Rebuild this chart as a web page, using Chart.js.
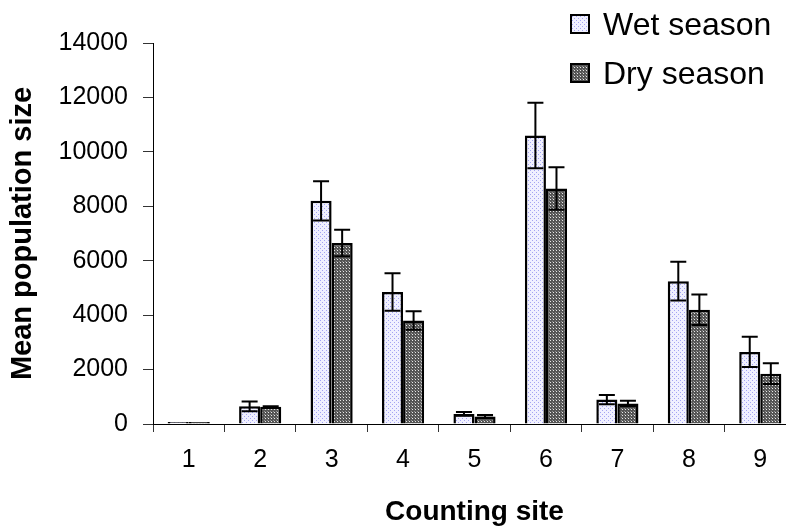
<!DOCTYPE html>
<html lang="en">
<head>
  <meta charset="UTF-8">
  <title>Mean population size by counting site</title>
  <script src="https://cdn.jsdelivr.net/npm/chart.js"></script>
  <style>
    body {
      margin: 0;
      background: #ffffff;
      overflow: hidden;
    }
    .wrap {
      width: 800px;
      height: 529px;
    }
  </style>
</head>
<body>

  <div class="wrap">
    <canvas id="popChart" width="800" height="529"></canvas>
  </div>

  <script>
    // values
    const sites = ['1', '2', '3', '4', '5', '6', '7', '8', '9'];
    const wetMeans = [70, 650, 8200, 4850, 370, 10600, 900, 5250, 2650];
    const wetErr   = [0, 180, 720, 690, 70, 1200, 170, 710, 560];
    const dryMeans = [70, 630, 6650, 3800, 280, 8650, 750, 4200, 1850];
    const dryErr   = [0, 20, 490, 340, 50, 780, 100, 560, 380];
    const yTicks = [0, 2000, 4000, 6000, 8000, 10000, 12000, 14000];

    const FONT = "'Liberation Sans', Arial, sans-serif";

    function makePattern(size, bg, dots) {
      const c = document.createElement('canvas');
      c.width = size;
      c.height = size;
      const g = c.getContext('2d');
      g.fillStyle = bg;
      g.fillRect(0, 0, size, size);
      dots.forEach(d => {
        g.fillStyle = d[2];
        g.fillRect(d[0], d[1], 1, 1);
      });
      return g.createPattern(c, 'repeat');
    }

    const wetFill = makePattern(4, '#f0f0ff', [[0, 0, '#a4a4f2'], [2, 2, '#a4a4f2']]);
    const dryFill = makePattern(3, '#555555', [[1, 1, '#e8e8e8'], [0, 0, '#909090']]);

    const errors = [wetErr, dryErr];

    // error bars drawn from the y scale
    const errorBars = {
      id: 'errorBars',
      afterDatasetsDraw(chart) {
        const ctx = chart.ctx;
        const y = chart.scales.y;
        ctx.save();
        ctx.strokeStyle = '#000';
        ctx.lineWidth = 2;
        chart.data.datasets.forEach((ds, i) => {
          const meta = chart.getDatasetMeta(i);
          meta.data.forEach((bar, j) => {
            const e = errors[i][j];
            if (!e) return;
            const top = y.getPixelForValue(ds.data[j] + e);
            const bot = y.getPixelForValue(ds.data[j] - e);
            const cap = 8;
            ctx.beginPath();
            ctx.moveTo(bar.x, top);
            ctx.lineTo(bar.x, bot);
            ctx.moveTo(bar.x - cap, top);
            ctx.lineTo(bar.x + cap, top);
            ctx.moveTo(bar.x - cap, bot);
            ctx.lineTo(bar.x + cap, bot);
            ctx.stroke();
          });
        });
        ctx.restore();
      }
    };

    // legend in the top right corner, over the plot
    const cornerLegend = {
      id: 'cornerLegend',
      afterDraw(chart) {
        const ctx = chart.ctx;
        ctx.save();
        ctx.font = '32px ' + FONT;
        ctx.textBaseline = 'alphabetic';
        chart.data.datasets.forEach((ds, i) => {
          const top = 14 + i * 49;
          ctx.fillStyle = ds.backgroundColor;
          ctx.fillRect(570, top, 20, 20);
          ctx.strokeStyle = '#000';
          ctx.lineWidth = 2;
          ctx.strokeRect(571, top + 1, 18, 18);
          ctx.fillStyle = '#000';
          ctx.fillText(ds.label, 603, top + 21);
        });
        ctx.restore();
      }
    };

    new Chart(document.getElementById('popChart'), {
      type: 'bar',
      data: {
        labels: sites,
        datasets: [
          {
            label: 'Wet season',
            data: wetMeans,
            backgroundColor: wetFill,
            borderColor: '#000',
            borderWidth: 2.5
          },
          {
            label: 'Dry season',
            data: dryMeans,
            backgroundColor: dryFill,
            borderColor: '#000',
            borderWidth: 2.5
          }
        ]
      },
      options: {
        responsive: false,
        animation: false,
        layout: { padding: { left: 0, top: 43, right: 4, bottom: 0 } },
        datasets: {
          bar: { categoryPercentage: 0.59, barPercentage: 1.0 }
        },
        plugins: {
          legend: { display: false },
          tooltip: { enabled: false }
        },
        scales: {
          x: {
            afterFit(scale) { scale.height = 105; },
            grid: {
              drawOnChartArea: false,
              drawTicks: true,
              tickLength: 8,
              color: '#333'
            },
            border: { display: true, color: '#000', width: 1 },
            ticks: {
              color: '#000',
              padding: 13,
              font: { family: FONT, size: 25 }
            },
            title: {
              display: true,
              text: 'Counting site',
              color: '#000',
              padding: { top: 0, bottom: 0 },
              font: { family: FONT, size: 28, weight: 'bold' }
            }
          },
          y: {
            min: 0,
            max: 14000,
            afterFit(scale) { scale.width = 153; },
            afterBuildTicks(scale) {
              scale.ticks = yTicks.map(v => ({ value: v }));
            },
            grid: {
              drawOnChartArea: false,
              drawTicks: true,
              tickLength: 10,
              color: '#333'
            },
            border: { display: true, color: '#000', width: 1 },
            ticks: {
              color: '#000',
              padding: 15,
              font: { family: FONT, size: 25 },
              callback: v => String(v)
            },
            title: {
              display: true,
              text: 'Mean population size',
              color: '#000',
              padding: { top: 6, bottom: 0 },
              font: { family: FONT, size: 29, weight: 'bold' }
            }
          }
        }
      },
      plugins: [errorBars, cornerLegend]
    });
  </script>

</body>
</html>
